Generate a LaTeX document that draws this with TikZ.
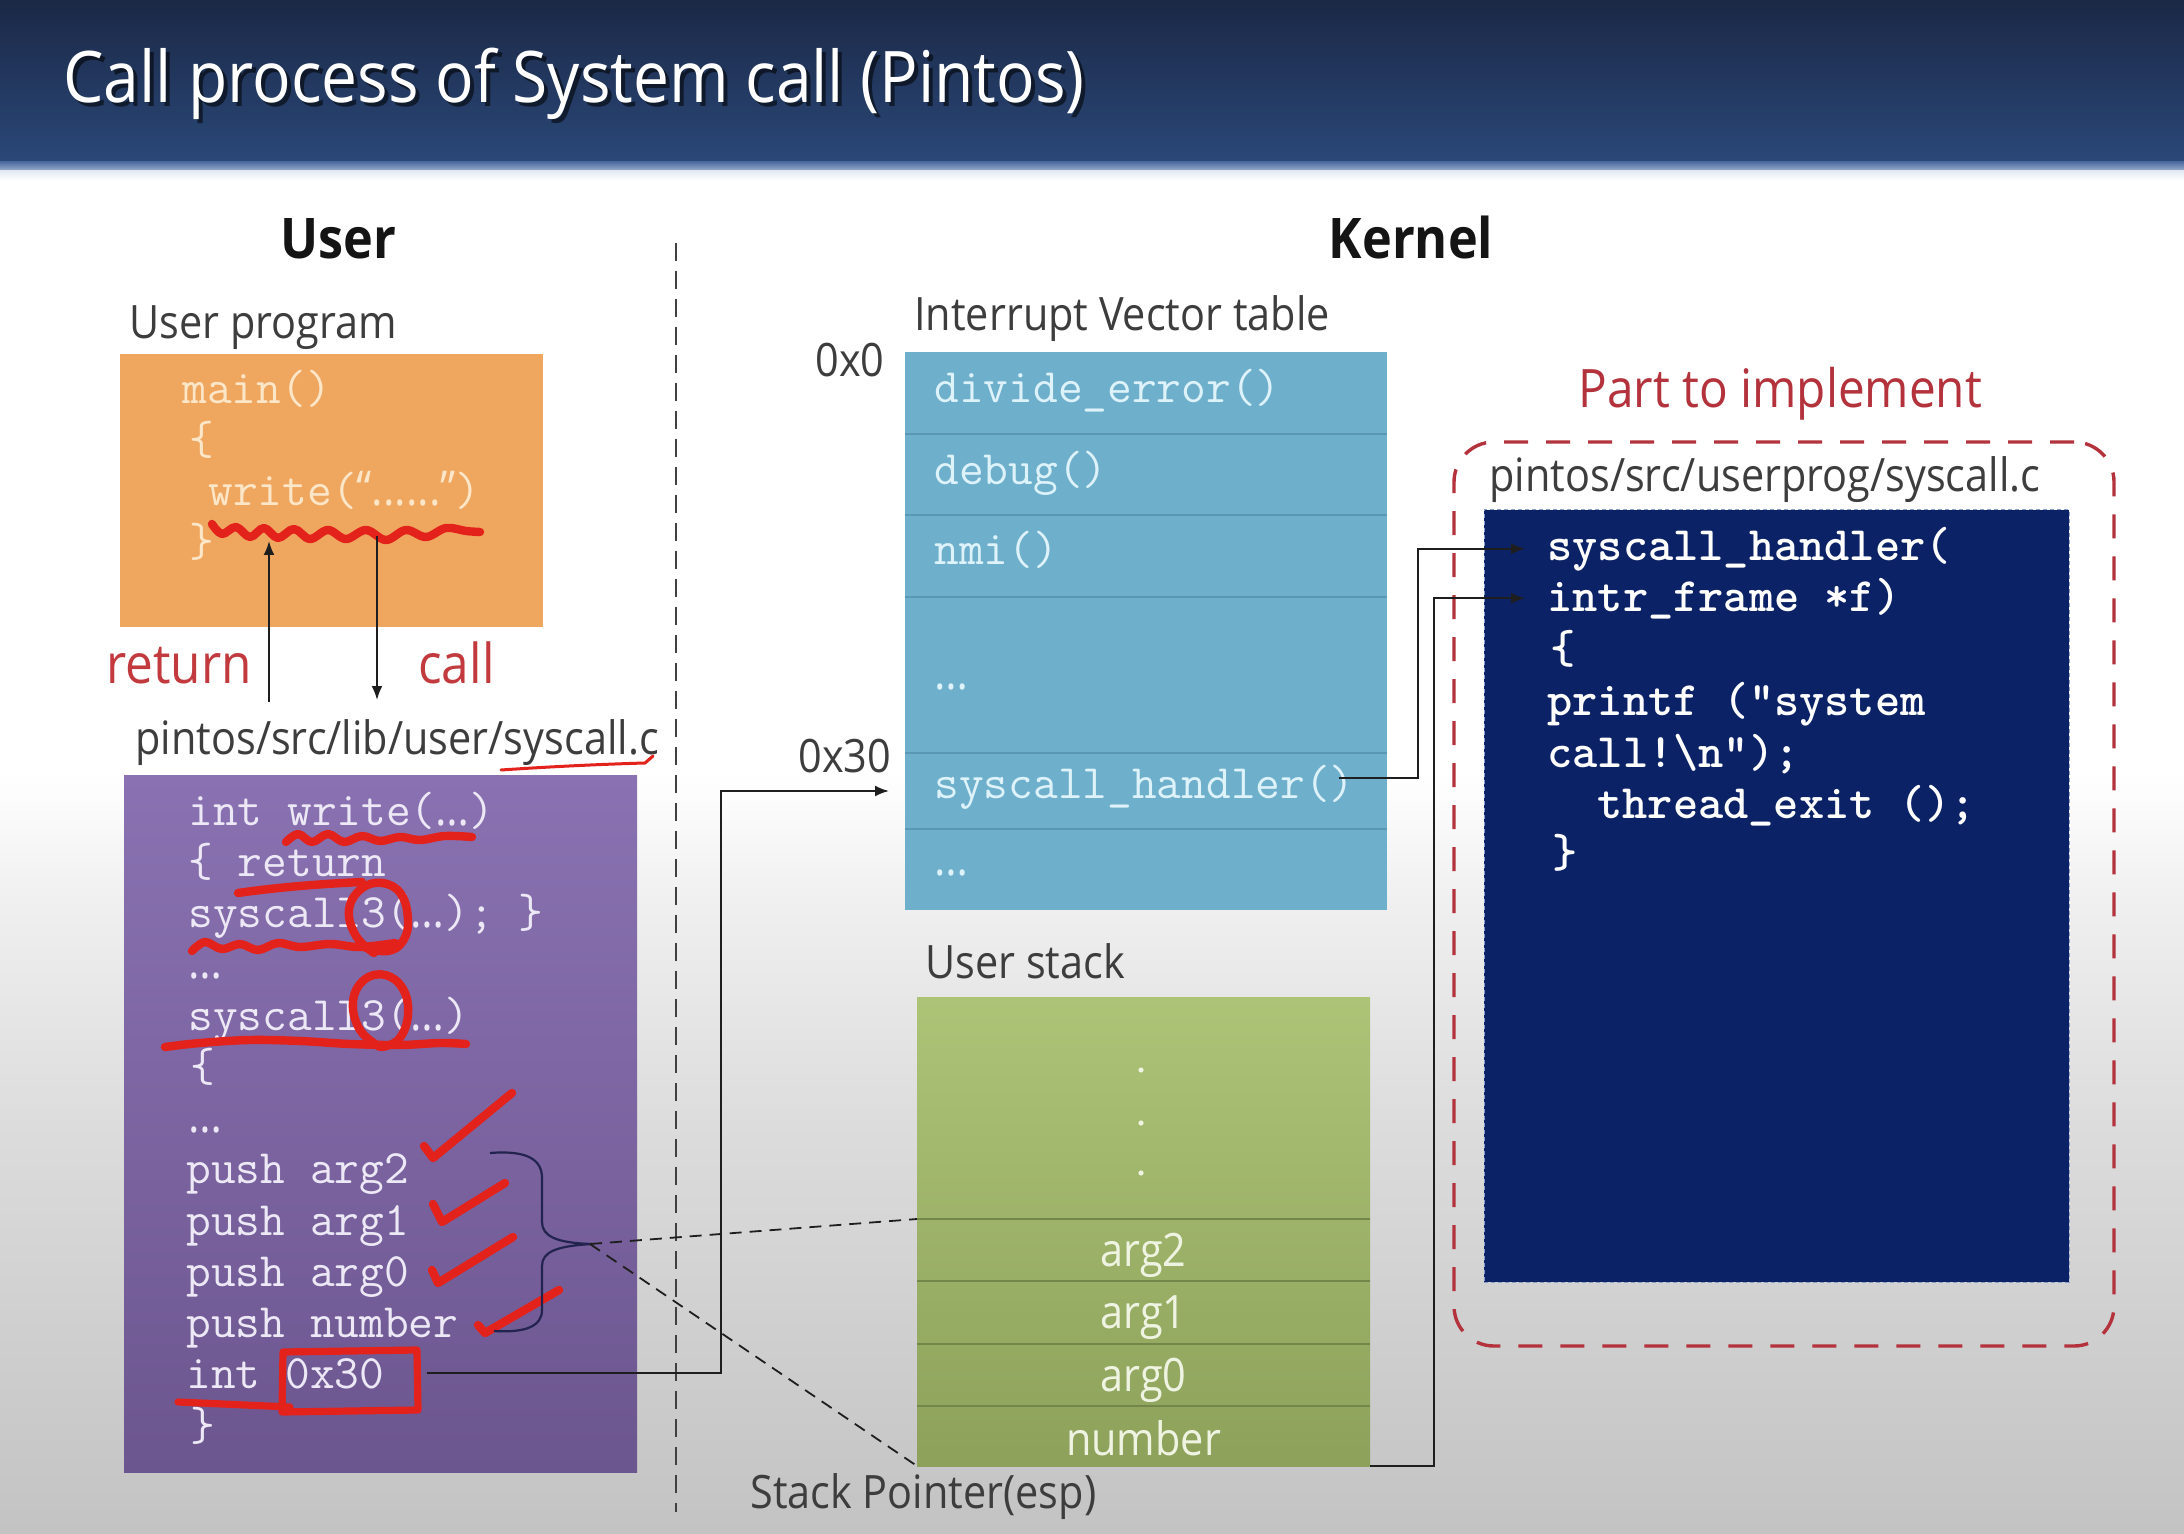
\documentclass[tikz,border=0pt]{standalone}
\usepackage{fontspec}
\setmainfont{Open Sans}[FakeStretch=0.9]
\usetikzlibrary{arrows.meta}

\definecolor{tbA}{HTML}{1B2846}
\definecolor{tbB}{HTML}{2A4878}
\definecolor{tbC}{HTML}{4F6EA2}
\definecolor{tbD}{HTML}{9DB0D0}
\definecolor{tbE}{HTML}{E4E9F2}
\definecolor{bg1}{HTML}{C3C3C3}
\definecolor{bg2}{HTML}{CBCBCB}
\definecolor{bg3}{HTML}{DCDCDC}
\definecolor{bg4}{HTML}{EFEFEF}
\definecolor{orangebox}{HTML}{EFA65F}
\definecolor{orangetxt}{HTML}{FBE6C8}
\definecolor{purpleA}{HTML}{8A72B2}
\definecolor{purpleB}{HTML}{6C568F}
\definecolor{purpletxt}{HTML}{EDE8F5}
\definecolor{ivtblue}{HTML}{6EB0CC}
\definecolor{ivtline}{HTML}{5A97B3}
\definecolor{ivttxt}{HTML}{DDF2F9}
\definecolor{stackA}{HTML}{ADC477}
\definecolor{stackB}{HTML}{8DA15A}
\definecolor{stackline}{HTML}{74874A}
\definecolor{stacktxt}{HTML}{EFF4E2}
\definecolor{navy}{HTML}{0C2266}
\definecolor{navyedge}{HTML}{8C9CCB}
\definecolor{labelgray}{HTML}{3D3D3D}
\definecolor{textred}{HTML}{C23A3E}
\definecolor{implred}{HTML}{B3323C}
\definecolor{marker}{HTML}{E3221C}
\definecolor{bracecol}{HTML}{23234F}
\definecolor{conncol}{HTML}{1E1E1E}

\pgfdeclareverticalshading{bgshade}{100bp}{color(0bp)=(bg1); color(25bp)=(bg1); color(30bp)=(bg2); color(40bp)=(bg3); color(48bp)=(bg4); color(53bp)=(white); color(100bp)=(white)}

\begin{document}
\begin{tikzpicture}[x=0.5pt,y=-0.5pt,
  lbl/.style={font=\fontsize{23}{27}\selectfont, text=labelgray, inner sep=0, anchor=base west},
  redlbl/.style={font=\fontsize{27.5}{32}\selectfont, text=textred, inner sep=0, anchor=base west},
  head/.style={font=\bfseries\fontsize{28}{32}\selectfont, text=black!92, inner sep=0, anchor=base},
  code/.style={font=\ttfamily\fontsize{24}{28}\selectfont, inner sep=0, anchor=base west},
  kcode/.style={code, font=\ttfamily\bfseries\fontsize{24}{28}\selectfont, text=white},
  box/.style={inner sep=0, outer sep=0, anchor=north west},
  conn/.style={draw=conncol, line width=1pt, -{Latex[length=7pt,width=5.5pt]}},
  dline/.style={draw=conncol, line width=0.9pt, dash pattern=on 6pt off 4pt},
  sepline/.style={draw=black!75, line width=1pt, dash pattern=on 9pt off 5pt},
  redpen/.style={draw=marker, line width=4.2pt, line cap=round, line join=round},
  bracepen/.style={draw=bracecol, line width=1.1pt},
  brow/.style={box, fill=ivtblue, minimum width=241pt},
  bsep/.style={draw=ivtline, line width=1.4pt},
  srow/.style={box, minimum width=226.5pt, text=stacktxt, font=\fontsize{23}{27}\selectfont},
  ssep/.style={draw=stackline, line width=0.9pt}
]
\useasboundingbox (0,0) rectangle (2184,1534);

% background and title bar
\shade[shading=bgshade] (0,172) rectangle (2184,1534);
\shade[top color=tbA, bottom color=tbB] (0,0) rectangle (2184,162);
\shade[top color=tbC, bottom color=tbD] (0,162) rectangle (2184,171);
\shade[top color=tbE, bottom color=white] (0,171) rectangle (2184,180);

\node[font=\fontsize{35.6}{40}\selectfont, text=black, opacity=0.55, inner sep=0, anchor=base west] (titlesh) at (67,107) {Call process of System call (Pintos)};
\node[font=\fontsize{35.6}{40}\selectfont, text=white, inner sep=0, anchor=base west] (title) at (63,103) {Call process of System call (Pintos)};

% separator
\coordinate (sepT) at (676,243);
\coordinate (sepB) at (676,1512);
\draw[sepline] (sepT) -- (sepB);

\node[head] (huser) at (338,259) {User};
\node[head] (hkernel) at (1411,259) {Kernel};

% ---------- user program ----------
\node[lbl] (luprog) at (129,339) {User program};
\node[box, fill=orangebox, minimum width=211.5pt, minimum height=136.5pt] (uprog) at (120,354) {};
\node[code, text=orangetxt] (o1) at (182,404) {main()};
\node[code, text=orangetxt] (o2) at (189,455) {\{};
\node[code, text=orangetxt] (o3) at (208,506) {write(\textrm{“......”})};
\node[code, text=orangetxt] (o4) at (189,557) {\}};
\draw[redpen] plot[smooth, tension=0.6] coordinates {(212,524) (222,534) (236,527) (250,537) (264,528) (278,538) (294,529) (310,539) (328,530) (346,539) (366,530) (386,540) (406,530) (426,537) (446,528) (466,531) (480,532)};

\coordinate (retS) at (269,702);
\coordinate (retE) at (269,541);
\coordinate (callS) at (377,536);
\coordinate (callE) at (377,700);
\draw[conn] (retS) -- (retE);
\draw[conn] (callS) -- (callE);
\node[redlbl] (lret) at (106,683) {return};
\node[redlbl] (lcall) at (418,683) {call};

% ---------- lib syscall.c ----------
\node[lbl] (llib) at (135,754) {pintos/src/lib/user/syscall.c};
\draw[draw=marker, line width=1.5pt, line cap=round] (501,770) .. controls (560,766) and (610,764) .. (645,763) -- (653,756);
\node[box, top color=purpleA, bottom color=purpleB, minimum width=256.5pt, minimum height=348.5pt] (ulib) at (124,775) {};
\node[code, text=purpletxt] (p1) at (188,825) {int write(\textrm{…})};
\node[code, text=purpletxt] (p2) at (188,876) {\{ return};
\node[code, text=purpletxt] (p3) at (188,927) {syscall3(\textrm{…}); \}};
\node[code, text=purpletxt] (p4) at (188,978) {\textrm{…}};
\node[code, text=purpletxt] (p5) at (188,1030) {syscall3(\textrm{…})};
\node[code, text=purpletxt] (p6) at (190,1081) {\{};
\node[code, text=purpletxt] (p7) at (188,1132) {\textrm{…}};
\node[code, text=purpletxt] (p8) at (186,1183) {push arg2};
\node[code, text=purpletxt] (p9) at (186,1235) {push arg1};
\node[code, text=purpletxt] (p10) at (186,1286) {push arg0};
\node[code, text=purpletxt] (p11) at (186,1337) {push number};
\node[code, text=purpletxt] (p12) at (186,1388) {int 0x30};
\node[code, text=purpletxt] (p13) at (190,1440) {\}};

% red annotations on lib code
\draw[redpen] plot[smooth, tension=0.6] coordinates {(286,842) (298,834) (312,842) (328,834) (344,842) (362,836) (380,841) (400,837) (420,840) (445,836) (472,837)};
\draw[redpen] (238,893) .. controls (280,887) and (320,884) .. (362,882);
\draw[redpen] plot[smooth, tension=0.6] coordinates {(192,951) (205,942) (222,949) (240,944) (258,950) (278,943) (300,947) (330,944) (360,947) (395,943)};
\draw[redpen] plot[smooth, tension=0.7] coordinates {(374,953) (356,936) (349,910) (361,889) (382,883) (401,894) (408,920) (403,941) (388,951) (366,948)};
\draw[redpen] plot[smooth, tension=0.7] coordinates {(380,1047) (360,1030) (353,1002) (364,980) (385,975) (403,989) (408,1015) (399,1039) (382,1047)};
\draw[redpen] plot[smooth, tension=0.6] coordinates {(165,1047) (200,1043) (250,1040) (300,1041) (350,1044) (400,1045) (440,1043) (466,1044)};
\draw[redpen] (424,1146) -- (433,1158) -- (512,1093);
\draw[redpen] (433,1204) -- (442,1222) -- (505,1183);
\draw[redpen] (432,1270) -- (438,1283) -- (513,1237);
\draw[redpen] (478,1325) -- (485,1333) -- (559,1290);
\draw[redpen, line width=3.6pt] (283,1352) -- (417,1350) -- (418,1410) -- (282,1412) -- cycle;
\draw[redpen, line width=3.6pt] (178,1402) -- (290,1407);

% brace
\draw[bracepen] (490,1153) .. controls (528,1150) and (542,1160) .. (542,1178) -- (542,1222) .. controls (542,1236) and (556,1243) .. (592,1244) .. controls (556,1246) and (542,1252) .. (542,1266) -- (542,1310) .. controls (542,1326) and (526,1333) .. (494,1331);
\coordinate (btip) at (590,1244);

% ---------- interrupt vector table ----------
\node[lbl] (livt) at (914,331) {Interrupt Vector table};
\node[lbl] (l0x0) at (815,377) {0x0};
\node[lbl] (l0x30) at (798,772) {0x30};
\node[brow, minimum height=41pt] (b1) at (905,352) {};
\node[brow, minimum height=40.5pt] (b2) at (905,434) {};
\node[brow, minimum height=41pt] (b3) at (905,515) {};
\node[brow, minimum height=78pt] (b4) at (905,597) {};
\node[brow, minimum height=38pt] (b5) at (905,753) {};
\node[brow, minimum height=40.5pt] (b6) at (905,829) {};
\draw[bsep] (b2.north west) -- (b2.north east);
\draw[bsep] (b3.north west) -- (b3.north east);
\draw[bsep] (b4.north west) -- (b4.north east);
\draw[bsep] (b5.north west) -- (b5.north east);
\draw[bsep] (b6.north west) -- (b6.north east);
\node[code, text=ivttxt] (t1) at (934,403) {divide\_error()};
\node[code, text=ivttxt] (t2) at (934,485) {debug()};
\node[code, text=ivttxt] (t3) at (934,565) {nmi()};
\node[code, text=ivttxt] (t4) at (934,689) {\textrm{…}};
\node[code, text=ivttxt] (t5) at (934,798) {syscall\_handler()};
\node[code, text=ivttxt] (t6) at (934,875) {\textrm{…}};

% ---------- user stack ----------
\node[lbl] (lstack) at (925,978) {User stack};
\node[box, top color=stackA, bottom color=stackB, minimum width=226.5pt, minimum height=234.5pt] (stk) at (917,997) {};
\node[srow, minimum height=111pt] (g0) at (917,997) {};
\node[srow, minimum height=31pt, yshift=-2.5pt] (g1) at (917,1219) {arg2};
\node[srow, minimum height=31.5pt, yshift=-2.5pt] (g2) at (917,1281) {arg1};
\node[srow, minimum height=31pt, yshift=-2.5pt] (g3) at (917,1344) {arg0};
\node[srow, minimum height=30pt, yshift=-1pt] (g4) at (917,1406) {number};
\coordinate (s1) at (917,1219);
\coordinate (s2) at (917,1281);
\coordinate (s3) at (917,1344);
\coordinate (s4) at (917,1406);
\coordinate (sr) at (1370,0);
\draw[ssep] (s1) -- (s1 -| sr);
\draw[ssep] (s2) -- (s2 -| sr);
\draw[ssep] (s3) -- (s3 -| sr);
\draw[ssep] (s4) -- (s4 -| sr);
\fill[stacktxt] (1141,1070) circle (2.6);
\fill[stacktxt] (1141,1123) circle (2.6);
\fill[stacktxt] (1141,1173) circle (2.6);
\node[lbl] (lesp) at (750,1508) {Stack Pointer(esp)};

% ---------- kernel part ----------
\node[redlbl, font=\fontsize{26.5}{31}\selectfont, text=implred] (limpl) at (1578,408) {Part to implement};
\node[box, draw=implred, line width=1.7pt, dash pattern=on 12pt off 9pt, rounded corners=20pt, minimum width=330pt, minimum height=452pt] (impl) at (1454,442) {};
\node[lbl] (lksys) at (1489,492) {pintos/src/userprog/syscall.c};
\node[box, fill=navy, draw=navyedge, line width=0.5pt, dash pattern=on 2pt off 1.5pt, minimum width=292.5pt, minimum height=386pt] (kbox) at (1484,510) {};
\node[kcode] (k1) at (1547,560) {syscall\_handler(};
\node[kcode] (k2) at (1547,611) {intr\_frame *f)};
\node[kcode] (k3) at (1550,663) {\{};
\node[kcode] (k4) at (1547,715) {printf ("system};
\node[kcode] (k5) at (1547,767) {call!\textbackslash n");};
\node[kcode] (k6) at (1597,818) {thread\_exit ();};
\node[kcode] (k7) at (1552,867) {\}};

% ---------- connectors ----------
\coordinate (e1) at (721,0);
\coordinate (e2) at (1418,0);
\coordinate (e3) at (1434,0);
\coordinate (c0) at ([xshift=21pt]p12.east);
\coordinate (c1) at ([xshift=-8pt,yshift=4.5pt]t5.east);
\draw[conn, shorten >=8pt] (c0) -- (c0 -| e1) |- (b5.west);
\draw[conn, shorten >=11pt] (c1) -- (c1 -| e2) |- (k1.west);
\draw[conn, shorten >=11pt] (stk.south east) -- (stk.south east -| e3) |- (k2.west);
\draw[dline] (btip) -- (s1);
\draw[dline] (btip) -- (stk.south west);
\end{tikzpicture}
\end{document}
